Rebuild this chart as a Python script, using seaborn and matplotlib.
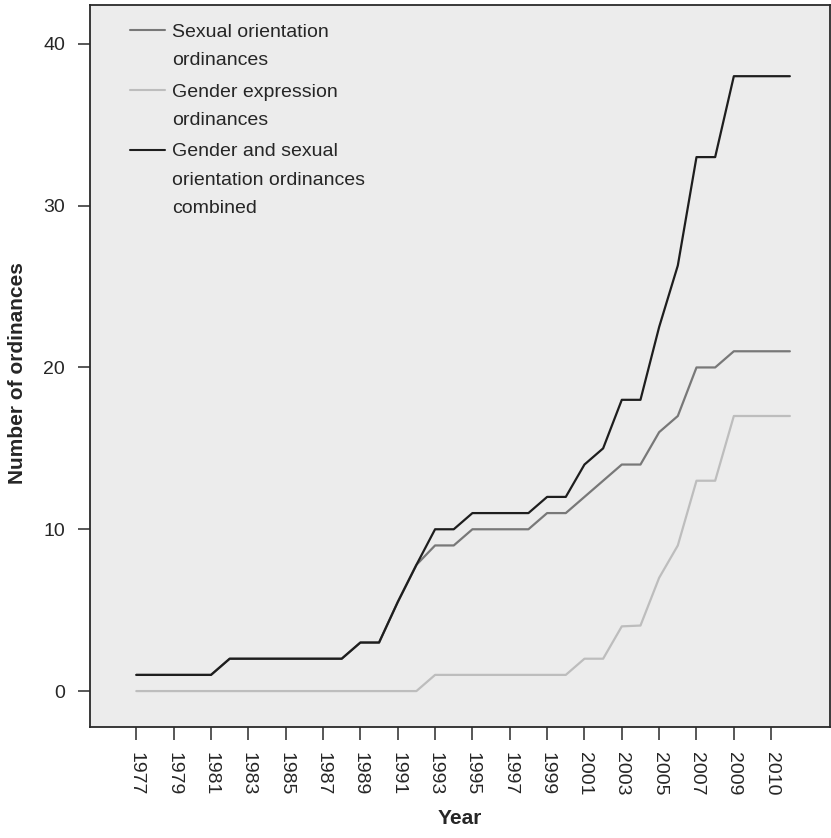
import numpy as np
import pandas as pd
import matplotlib
matplotlib.use("Agg")
import matplotlib.pyplot as plt
import seaborn as sns

# x positions are evenly spaced observations, labelled every second one
step = list(range(36))
tick_pos = list(range(0, 36, 2))
tick_labels = ['1977', '1979', '1981', '1983', '1985', '1987', '1989', '1991', '1993',
               '1995', '1997', '1999', '2001', '2003', '2005', '2007', '2009', '2010']

sexual_orientation = [1, 1, 1, 1, 1, 2, 2, 2, 2, 2, 2, 2, 3, 3, 5.5, 7.8, 9, 9,
                      10, 10, 10, 10, 11, 11, 12, 13, 14, 14, 16, 17, 20, 20, 21, 21, 21, 21]
gender_expression = [0, 0, 0, 0, 0, 0, 0, 0, 0, 0, 0, 0, 0, 0, 0, 0, 1, 1,
                     1, 1, 1, 1, 1, 1, 2, 2, 4, 4.05, 7, 9, 13, 13, 17, 17, 17, 17]
combined = [1, 1, 1, 1, 1, 2, 2, 2, 2, 2, 2, 2, 3, 3, 5.5, 7.8, 10, 10,
            11, 11, 11, 11, 12, 12, 14, 15, 18, 18, 22.5, 26.3, 33, 33, 38, 38, 38, 38]

names = ['Sexual orientation\nordinances',
         'Gender expression\nordinances',
         'Gender and sexual\norientation ordinances\ncombined']
colors = ['#787878', '#bdbdbd', '#1e1e1e']

df = pd.concat([
    pd.DataFrame({'step': step, 'count': sexual_orientation, 'series': names[0]}),
    pd.DataFrame({'step': step, 'count': gender_expression, 'series': names[1]}),
    pd.DataFrame({'step': step, 'count': combined, 'series': names[2]}),
])

sns.set_style("ticks", {"axes.facecolor": "#ececec", "axes.edgecolor": "#2a2a2a"})
plt.rcParams['font.family'] = ['Liberation Sans', 'DejaVu Sans']

fig = plt.figure(figsize=(8.31, 8.38), dpi=100)
ax = fig.add_axes([90 / 831, 1 - 727 / 838, 740 / 831, 722 / 838])

sns.lineplot(data=df, x='step', y='count', hue='series', hue_order=names,
             palette=colors, linewidth=1.6, ax=ax)

ax.set_xlim(-2.48, 37.15)
ax.set_ylim(-2.22, 42.4)
ax.set_xticks(tick_pos)
ax.set_xticklabels(tick_labels, rotation=-90, fontsize=14)
ax.set_yticks([0, 10, 20, 30, 40])
ax.tick_params(axis='y', labelsize=14)
ax.tick_params(length=9, width=1.1, color='#2a2a2a', pad=9)
for s in ax.spines.values():
    s.set_linewidth(1.3)
    s.set_visible(True)

ax.set_xlabel('Year', fontweight='bold', fontsize=15)
ax.set_ylabel('Number of ordinances', fontweight='bold', fontsize=15)
ax.xaxis.set_label_coords(0.5, -0.114)
ax.yaxis.set_label_coords(-0.085, 0.49)

leg = ax.legend(frameon=False, loc='upper left', fontsize=14, handlelength=1.8,
                handletextpad=0.4, labelspacing=0.75, borderaxespad=0,
                bbox_to_anchor=(0.043, 0.985))
for line in leg.get_lines():
    line.set_linewidth(1.5)
for t in leg.get_texts():
    t.set_linespacing(1.87)
for col in leg._legend_handle_box.get_children():
    for item in col.get_children():
        item.align = 'top'

fig.savefig('out.png', dpi=100)
